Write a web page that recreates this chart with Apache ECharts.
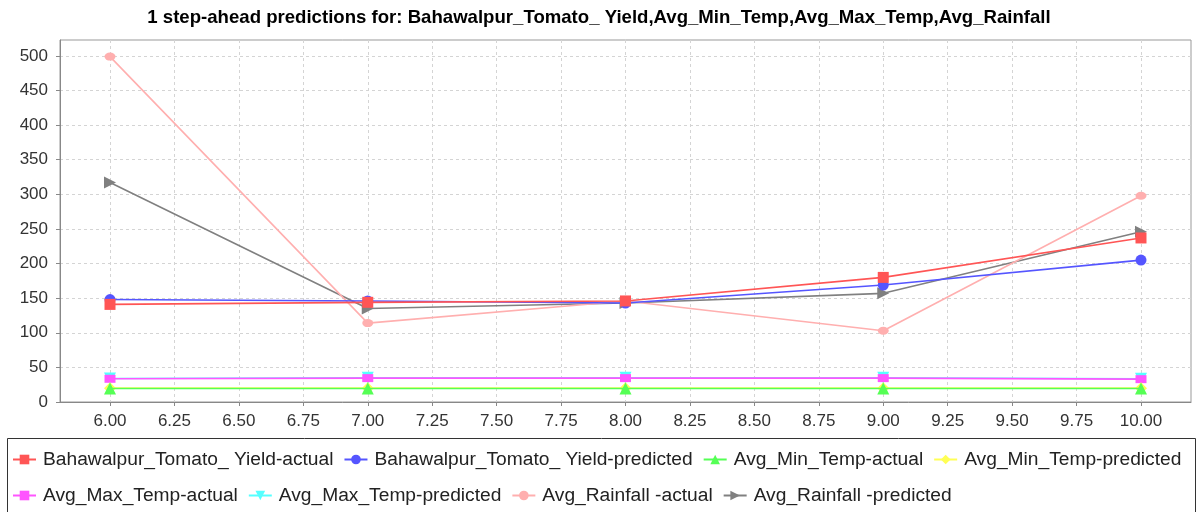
<!DOCTYPE html>
<html><head><meta charset="utf-8">
<script src="https://cdn.jsdelivr.net/npm/echarts@6/dist/echarts.min.js"></script>
<style>html,body{margin:0;padding:0;background:#fff}#c{width:1198px;height:512px}</style>
</head><body><div id="c"></div>
<script>
const xValues = [6, 7, 8, 9, 10];
const yieldActual = [141, 144, 146, 180, 237];
const yieldPredicted = [148, 146, 143, 169, 205];
const minTempActual = [19.5, 19.5, 19.5, 19.5, 19.5];
const minTempPredicted = [20, 20, 20, 20, 20];
const maxTempActual = [33.5, 34.5, 34.5, 34.5, 33];
const maxTempPredicted = [34, 35, 35, 35, 33.5];
const rainfallActual = [499, 114, 146, 103, 298];
const rainfallPredicted = [317, 135, 143, 157, 246];
const xTicks = [6, 6.25, 6.5, 6.75, 7, 7.25, 7.5, 7.75, 8, 8.25, 8.5, 8.75, 9, 9.25, 9.5, 9.75, 10];
const yTicks = [0, 50, 100, 150, 200, 250, 300, 350, 400, 450, 500];

const seriesDefs = [
  {name: 'Bahawalpur_Tomato_ Yield-actual', data: yieldActual, color: '#FF5555', symbol: 'rect', size: 11},
  {name: 'Bahawalpur_Tomato_ Yield-predicted', data: yieldPredicted, color: '#5555FF', symbol: 'circle', size: 11},
  {name: 'Avg_Min_Temp-actual', data: minTempActual, color: '#55FF55', symbol: 'triangle', size: 12},
  {name: 'Avg_Min_Temp-predicted', data: minTempPredicted, color: '#FFFF55', symbol: 'diamond', size: 12},
  {name: 'Avg_Max_Temp-actual', data: maxTempActual, color: '#FF55FF', symbol: 'rect', size: [11, 8]},
  {name: 'Avg_Max_Temp-predicted', data: maxTempPredicted, color: '#55FFFF', symbol: 'path://M0,0 L12,0 L6,12 Z', size: 12},
  {name: 'Avg_Rainfall -actual', data: rainfallActual, color: '#FFAFAF', symbol: 'path://M0,4 A6,4 0 1,0 12,4 A6,4 0 1,0 0,4 Z', size: [11, 8]},
  {name: 'Avg_Rainfall -predicted', data: rainfallPredicted, color: '#808080', symbol: 'path://M0,0 L12,6 L0,12 Z', size: 12}
];

const series = seriesDefs.map((s, i) => ({
  name: s.name,
  type: 'line',
  data: xValues.map((x, j) => [x, s.data[j]]),
  symbol: s.symbol,
  symbolSize: s.size,
  showAllSymbol: true,
  z: 20 - i,
  lineStyle: {color: s.color, width: 1.6},
  itemStyle: {color: s.color},
  emphasis: {disabled: true},
  animation: false
}));

const legendCommon = {
  left: 12, padding: 0, itemWidth: 23, itemHeight: 12, itemGap: 10,
  textStyle: {fontFamily: 'Liberation Sans', fontSize: 19.2, color: '#222', padding: [0, 0, 0, 2]},
  selectedMode: false
};

const chart = echarts.init(document.getElementById('c'), null, {renderer: 'canvas'});
chart.setOption({
  animation: false,
  backgroundColor: '#fff',
  title: {
    text: '1 step-ahead predictions for: Bahawalpur_Tomato_ Yield,Avg_Min_Temp,Avg_Max_Temp,Avg_Rainfall',
    left: 'center', top: 8, padding: [0, 0, 0, 6],
    textStyle: {fontFamily: 'Liberation Sans', fontWeight: 'bold', fontSize: 18.6, color: '#000'}
  },
  grid: {left: 60, top: 40, right: 7, bottom: 110, show: true, borderColor: '#999', borderWidth: 1},
  xAxis: {
    type: 'value', min: 5.806, max: 10.194,
    axisLine: {show: true, lineStyle: {color: '#888'}},
    axisTick: {show: true, length: 4, lineStyle: {color: '#888'}, customValues: xTicks},
    axisLabel: {customValues: xTicks, formatter: v => v.toFixed(2), fontFamily: 'Liberation Sans', fontSize: 17, color: '#333', margin: 11},
    splitLine: {show: true, lineStyle: {color: '#d4d4d4', type: [3, 3]}}
  },
  yAxis: {
    type: 'value', min: 0, max: 523,
    axisLine: {show: true, lineStyle: {color: '#888'}},
    axisTick: {show: true, length: 4, lineStyle: {color: '#888'}, customValues: yTicks},
    axisLabel: {customValues: yTicks, fontFamily: 'Liberation Sans', fontSize: 17, color: '#333', margin: 12},
    splitLine: {show: true, lineStyle: {color: '#d4d4d4', type: [3, 3]}}
  },
  legend: [
    Object.assign({}, legendCommon, {top: 450, data: seriesDefs.slice(0, 4).map(s => s.name)}),
    Object.assign({}, legendCommon, {top: 486, data: seriesDefs.slice(4).map(s => s.name)})
  ],
  graphic: [{
    type: 'rect', shape: {x: 7.5, y: 438.5, width: 1188, height: 100},
    style: {fill: 'none', stroke: '#333', lineWidth: 1}, silent: true
  }],
  series: series
});
</script></body></html>
